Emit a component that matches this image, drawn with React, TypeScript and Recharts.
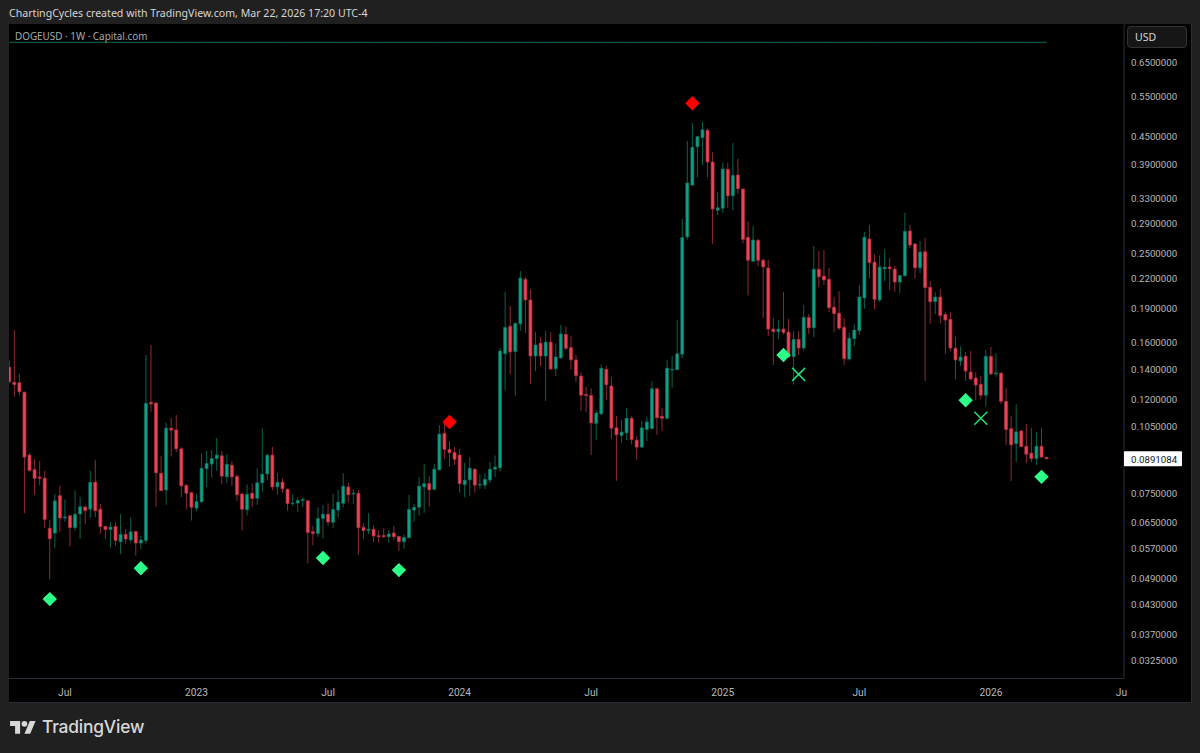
import { Bar, Cell, ComposedChart, Line, Scatter, XAxis, YAxis } from 'recharts';

// DOGEUSD weekly, oldest first
const highs = [
  0.1458, 0.17, 0.1364, 0.1247, 0.0919, 0.0889, 0.088, 0.0838, 0.0656, 0.0747,
  0.078, 0.0727, 0.0671, 0.076, 0.0737, 0.0704, 0.0839, 0.0886, 0.0711, 0.0638,
  0.0648, 0.0648, 0.0675, 0.0627, 0.0665, 0.0621, 0.0605, 0.15, 0.1577, 0.1183,
  0.0904, 0.1069, 0.1094, 0.111, 0.0945, 0.0784, 0.0755, 0.0747, 0.0916, 0.0928,
  0.0931, 0.0989, 0.0928, 0.0912, 0.088, 0.0825, 0.0752, 0.0783, 0.0786, 0.085,
  0.1039, 0.0912, 0.0945, 0.083, 0.0808, 0.0768, 0.0746, 0.0734, 0.0734, 0.0725,
  0.0637, 0.0699, 0.0707, 0.0713, 0.0747, 0.0762, 0.0829, 0.079, 0.0765, 0.0762,
  0.0645, 0.0678, 0.0638, 0.0622, 0.0629, 0.0624, 0.0637, 0.0605, 0.061, 0.0744,
  0.0711, 0.0812, 0.0868, 0.0817, 0.0868, 0.1056, 0.1065, 0.0973, 0.0946, 0.0936,
  0.0874, 0.0898, 0.0848, 0.0826, 0.0829, 0.0877, 0.0906, 0.1551, 0.206, 0.1917,
  0.1758, 0.2285, 0.2221, 0.2085, 0.1683, 0.1639, 0.1694, 0.1683, 0.1591, 0.1743,
  0.1729, 0.165, 0.15, 0.1375, 0.1279, 0.1269, 0.1138, 0.1432, 0.142, 0.1341,
  0.1105, 0.1083, 0.1148, 0.1105, 0.0999, 0.1078, 0.1098, 0.1315, 0.1272, 0.1148,
  0.1463, 0.1492, 0.1787, 0.297, 0.4385, 0.4808, 0.4494, 0.4832, 0.4674, 0.4144,
  0.3397, 0.3934, 0.3934, 0.4337, 0.4014, 0.3452, 0.2933, 0.2865, 0.2683, 0.2435,
  0.2411, 0.1805, 0.1787, 0.2057, 0.1796, 0.1689, 0.1689, 0.1927, 0.1842, 0.259,
  0.2527, 0.2539, 0.2317, 0.2003, 0.2065, 0.1805, 0.1678, 0.1749, 0.213, 0.2779,
  0.2874, 0.2485, 0.247, 0.2548, 0.2439, 0.2347, 0.224, 0.3061, 0.2881, 0.2627,
  0.2653, 0.2697, 0.2173, 0.2055, 0.2089, 0.1863, 0.1863, 0.1644, 0.1565, 0.1523,
  0.1528, 0.1375, 0.135, 0.1538, 0.1561, 0.1512, 0.1375, 0.1271, 0.1103, 0.1171,
  0.103, 0.1062, 0.1041, 0.1019, 0.1041, 0.0898,
];
const lows = [
  0.1301, 0.1217, 0.1226, 0.0678, 0.0836, 0.0744, 0.0781, 0.063, 0.0487, 0.0569,
  0.0618, 0.0649, 0.0574, 0.0622, 0.0597, 0.0641, 0.0662, 0.0666, 0.0611, 0.0597,
  0.0571, 0.0577, 0.0552, 0.0582, 0.0585, 0.0549, 0.0567, 0.0582, 0.1129, 0.0701,
  0.0757, 0.0708, 0.0901, 0.0922, 0.0735, 0.0692, 0.0654, 0.0685, 0.0717, 0.0773,
  0.0811, 0.0839, 0.0784, 0.079, 0.0778, 0.0721, 0.0622, 0.0671, 0.0701, 0.0708,
  0.0755, 0.08, 0.0761, 0.0744, 0.0753, 0.0687, 0.0704, 0.0683, 0.0701, 0.0528,
  0.0578, 0.0602, 0.0598, 0.0637, 0.0629, 0.0664, 0.0699, 0.0717, 0.0711, 0.0551,
  0.0596, 0.0611, 0.0587, 0.0585, 0.0599, 0.0585, 0.0593, 0.0562, 0.0568, 0.0599,
  0.065, 0.0671, 0.068, 0.0701, 0.076, 0.084, 0.089, 0.0857, 0.0864, 0.0753,
  0.0735, 0.074, 0.0752, 0.0767, 0.0766, 0.0789, 0.0813, 0.0836, 0.1258, 0.1361,
  0.1222, 0.1694, 0.1675, 0.1297, 0.1384, 0.142, 0.1191, 0.1391, 0.135, 0.1472,
  0.1538, 0.1391, 0.1312, 0.1133, 0.1127, 0.0908, 0.0979, 0.1113, 0.1197, 0.0984,
  0.0798, 0.0966, 0.0979, 0.0958, 0.0886, 0.0943, 0.0975, 0.1034, 0.1005, 0.1025,
  0.1087, 0.1272, 0.1391, 0.1475, 0.2674, 0.35, 0.3655, 0.3888, 0.3655, 0.2617,
  0.3026, 0.3057, 0.3139, 0.3103, 0.3365, 0.2627, 0.2022, 0.2395, 0.234, 0.1805,
  0.165, 0.1427, 0.1622, 0.1659, 0.148, 0.1293, 0.15, 0.1533, 0.1667, 0.1639,
  0.2106, 0.213, 0.1859, 0.1681, 0.17, 0.1427, 0.1458, 0.1565, 0.1659, 0.189,
  0.2206, 0.1884, 0.1956, 0.217, 0.2078, 0.2057, 0.2045, 0.2228, 0.2561, 0.2198,
  0.2263, 0.1316, 0.1754, 0.1842, 0.1758, 0.1509, 0.153, 0.1328, 0.142, 0.1316,
  0.1319, 0.1197, 0.1201, 0.1157, 0.1357, 0.1345, 0.1173, 0.0954, 0.0797, 0.0877,
  0.0945, 0.0873, 0.0877, 0.0864, 0.0897, 0.0891,
];
const opens = [
  0.1411, 0.1308, 0.1305, 0.1245, 0.0908, 0.0844, 0.0813, 0.0809, 0.0629, 0.0614,
  0.0741, 0.0662, 0.067, 0.0631, 0.0676, 0.07, 0.0692, 0.0793, 0.0692, 0.0635,
  0.0625, 0.0635, 0.0588, 0.061, 0.0593, 0.0619, 0.0584, 0.0592, 0.1183, 0.1179,
  0.0829, 0.0762, 0.1039, 0.103, 0.0937, 0.078, 0.0752, 0.0696, 0.0718, 0.0848,
  0.0868, 0.0892, 0.0905, 0.0814, 0.0863, 0.0816, 0.0747, 0.069, 0.075, 0.0731,
  0.079, 0.0826, 0.0908, 0.0774, 0.0793, 0.0765, 0.0712, 0.0714, 0.0723, 0.0722,
  0.0618, 0.0613, 0.0661, 0.0675, 0.0648, 0.0689, 0.0713, 0.0774, 0.0747, 0.075,
  0.0632, 0.0622, 0.0626, 0.0606, 0.0607, 0.0603, 0.0614, 0.0604, 0.0588, 0.06,
  0.0689, 0.0699, 0.0774, 0.0787, 0.0765, 0.0843, 0.1013, 0.0934, 0.092, 0.0908,
  0.0783, 0.0802, 0.0846, 0.0781, 0.0781, 0.0801, 0.0846, 0.0852, 0.1509, 0.1732,
  0.1526, 0.1754, 0.2192, 0.1976, 0.1492, 0.1591, 0.1492, 0.16, 0.14, 0.1478,
  0.1662, 0.1556, 0.1463, 0.135, 0.123, 0.1225, 0.1065, 0.1116, 0.1396, 0.1284,
  0.1041, 0.1002, 0.1015, 0.1092, 0.0979, 0.0945, 0.1032, 0.1037, 0.1266, 0.1103,
  0.1092, 0.1391, 0.1393, 0.1506, 0.2711, 0.3515, 0.426, 0.4458, 0.4627, 0.3947,
  0.3098, 0.3129, 0.3805, 0.3333, 0.3697, 0.3447, 0.2706, 0.2399, 0.2665, 0.2411,
  0.232, 0.1708, 0.1686, 0.1708, 0.1683, 0.1487, 0.1622, 0.1553, 0.1811, 0.1719,
  0.2305, 0.2228, 0.2192, 0.1906, 0.185, 0.1723, 0.147, 0.1628, 0.1694, 0.1996,
  0.2683, 0.2389, 0.1976, 0.2308, 0.2332, 0.2308, 0.2162, 0.2231, 0.2793, 0.2617,
  0.2323, 0.2518, 0.2106, 0.1959, 0.2006, 0.1838, 0.1793, 0.1551, 0.1456, 0.149,
  0.1377, 0.1336, 0.1295, 0.1226, 0.149, 0.1364, 0.1369, 0.1189, 0.1037, 0.0961,
  0.1025, 0.0949, 0.0917, 0.0892, 0.0949, 0.0898,
];
const closes = [
  0.1312, 0.1293, 0.1247, 0.0899, 0.084, 0.0808, 0.0808, 0.0657, 0.0597, 0.0722,
  0.0662, 0.0666, 0.0631, 0.0675, 0.0701, 0.0687, 0.0792, 0.0687, 0.0634, 0.0625,
  0.0633, 0.0592, 0.061, 0.0596, 0.0618, 0.0584, 0.0593, 0.1177, 0.1173, 0.0831,
  0.076, 0.1039, 0.1029, 0.0937, 0.0778, 0.075, 0.0699, 0.0719, 0.085, 0.0871,
  0.0893, 0.0908, 0.0817, 0.0867, 0.0814, 0.0744, 0.0692, 0.0746, 0.073, 0.079,
  0.0825, 0.0908, 0.0774, 0.0792, 0.0767, 0.0712, 0.0714, 0.0723, 0.0727, 0.0616,
  0.0613, 0.0661, 0.0675, 0.0649, 0.0691, 0.0717, 0.0777, 0.0744, 0.075, 0.0631,
  0.0622, 0.0626, 0.0605, 0.0603, 0.0603, 0.0611, 0.0603, 0.0588, 0.0601, 0.0691,
  0.0699, 0.0777, 0.0787, 0.0763, 0.0846, 0.1009, 0.0934, 0.0919, 0.0889, 0.0787,
  0.0801, 0.085, 0.0781, 0.0784, 0.0804, 0.0846, 0.0855, 0.153, 0.1723, 0.1523,
  0.1758, 0.2206, 0.1976, 0.1492, 0.1577, 0.1492, 0.16, 0.1398, 0.1485, 0.1667,
  0.1551, 0.1463, 0.1352, 0.1226, 0.1223, 0.1067, 0.1121, 0.1404, 0.1292, 0.1039,
  0.1005, 0.1019, 0.1092, 0.0981, 0.0945, 0.1041, 0.1072, 0.1266, 0.1095, 0.1092,
  0.1404, 0.1396, 0.1509, 0.2702, 0.3553, 0.4248, 0.448, 0.464, 0.3947, 0.3118,
  0.3139, 0.3811, 0.3333, 0.3691, 0.3452, 0.2678, 0.2411, 0.267, 0.2411, 0.2332,
  0.1708, 0.1686, 0.1708, 0.1678, 0.1483, 0.1622, 0.1553, 0.1811, 0.1719, 0.2305,
  0.2221, 0.2184, 0.1901, 0.1846, 0.1716, 0.1472, 0.1631, 0.17, 0.2006, 0.2706,
  0.2384, 0.1982, 0.2332, 0.2329, 0.2312, 0.2162, 0.2235, 0.2789, 0.2603, 0.2323,
  0.2514, 0.2102, 0.1959, 0.2006, 0.1827, 0.1787, 0.1553, 0.1463, 0.1485, 0.1384,
  0.133, 0.129, 0.1226, 0.149, 0.1364, 0.1371, 0.1189, 0.1032, 0.0956, 0.102,
  0.0947, 0.0912, 0.0892, 0.0949, 0.0899, 0.0891084,
];

const priceTicks = [
  0.65, 0.55, 0.45, 0.39, 0.33, 0.29, 0.25, 0.22, 0.19, 0.16, 0.14, 0.12, 0.105,
  0.0891084, 0.075, 0.065, 0.057, 0.049, 0.043, 0.037, 0.0325,
];
const lastPrice = 0.0891084;

const timeTicks = [11, 37, 63, 89, 115, 141, 168, 194, 219.8];
const timeLabels = ['Jul', '2023', 'Jul', '2024', 'Jul', '2025', 'Jul', '2026', 'Ju'];

const buySignals = [
  { week: 8, price: 0.0441 },
  { week: 26, price: 0.0515 },
  { week: 62, price: 0.0542 },
  { week: 77, price: 0.051 },
  { week: 153, price: 0.15 },
  { week: 189, price: 0.1195 },
  { week: 204, price: 0.0814 },
];
const sellSignals = [
  { week: 87, price: 0.1072 },
  { week: 135, price: 0.5297 },
];
const crossSignals = [
  { week: 156, price: 0.1361 },
  { week: 192, price: 0.1092 },
];
const topLevel = 0.7193;

const UP = '#10a085';
const UP_EDGE = '#0b6f5e';
const DOWN = '#ec4558';
const DOWN_EDGE = '#b02e3c';
const UP_WICK = '#0a6152';
const DOWN_WICK = '#8c2a35';
const AXIS_TEXT = '#b8b8b8';
const FRAME = '#2a2e39';
const FONT = '"Noto Sans", sans-serif';
const TICK_FONT = 'Roboto, sans-serif';

const candles = highs.map((high, i) => ({
  week: i,
  wick: [lows[i], high],
  body: [Math.min(opens[i], closes[i]), Math.max(opens[i], closes[i])],
  up: closes[i] >= opens[i],
  top: topLevel,
}));

const Diamond = ({ cx, cy, fill }: any) => (
  <polygon points={`${cx},${cy - 7.2} ${cx + 7.2},${cy} ${cx},${cy + 7.2} ${cx - 7.2},${cy}`} fill={fill} />
);

const Cross = ({ cx, cy }: any) => (
  <path
    d={`M${cx - 6.5},${cy - 6.5}L${cx + 6.5},${cy + 6.5}M${cx - 6.5},${cy + 6.5}L${cx + 6.5},${cy - 6.5}`}
    stroke="#1fe078"
    strokeWidth={1.5}
    fill="none"
  />
);

const PriceTick = ({ x, y, payload }: any) => {
  const isLast = payload.value === lastPrice;
  return (
    <g>
      {isLast && <rect x={x - 7} y={y - 7.5} width={58} height={15} rx={1} fill="#ffffff" />}
      <text
        x={x}
        y={y + 3.8}
        fontSize={9.7}
        fontFamily={TICK_FONT}
        fill={isLast ? '#131722' : AXIS_TEXT}
      >
        {payload.value.toFixed(7)}
      </text>
    </g>
  );
};

export default function App() {
  return (
    <div style={{ position: 'absolute', left: 0, top: 0, width: 1200, height: 753, background: '#202020', overflow: 'hidden' }}>
      <div style={{ position: 'absolute', left: 9, top: 24, width: 1182, height: 677.5, background: '#000000', borderRight: `1px solid ${FRAME}`, borderBottom: `1px solid ${FRAME}` }} />
      <div style={{ position: 'absolute', left: 9, top: 6, fontFamily: FONT, fontSize: 10.6, color: '#d6d6d6', whiteSpace: 'nowrap' }}>
        ChartingCycles created with TradingView.com, Mar 22, 2026 17:20 UTC-4
      </div>

      <div style={{ position: 'absolute', left: 0, top: 0 }}>
        <ComposedChart
          width={1200}
          height={753}
          data={candles}
          margin={{ top: 24, right: 8, bottom: 51.5, left: 9 }}
        >
          <XAxis
            xAxisId="wick"
            dataKey="week"
            type="number"
            domain={[-0.06, 220.3]}
            allowDataOverflow
            hide
          />
          <XAxis
            xAxisId="body"
            dataKey="week"
            type="number"
            domain={[-0.06, 220.3]}
            allowDataOverflow
            ticks={timeTicks}
            interval={0}
            height={23}
            tickLine={false}
            tickMargin={4}
            axisLine={{ stroke: FRAME }}
            tick={{ fontSize: 10.2, fontFamily: TICK_FONT, fill: AXIS_TEXT }}
            tickFormatter={(v: number) => timeLabels[timeTicks.indexOf(v)]}
          />
          <YAxis
            orientation="right"
            type="number"
            scale="log"
            domain={[0.02962, 0.7884]}
            allowDataOverflow
            ticks={priceTicks}
            interval={0}
            width={68}
            tickLine={false}
            tickMargin={1}
            axisLine={{ stroke: FRAME }}
            tick={<PriceTick />}
          />

          <Line
            xAxisId="body"
            dataKey="top"
            stroke="#0b6e5c"
            strokeWidth={1}
            dot={false}
            isAnimationActive={false}
          />
          <Bar xAxisId="wick" dataKey="wick" barSize={1} isAnimationActive={false}>
            {candles.map((c) => (
              <Cell key={c.week} fill={c.up ? UP_WICK : DOWN_WICK} />
            ))}
          </Bar>
          <Bar xAxisId="body" dataKey="body" barSize={3} isAnimationActive={false}>
            {candles.map((c) => (
              <Cell
                key={c.week}
                fill={c.up ? UP : DOWN}
                stroke={c.up ? UP_EDGE : DOWN_EDGE}
                strokeWidth={0.7}
              />
            ))}
          </Bar>
          <Scatter
            xAxisId="body"
            data={buySignals}
            dataKey="price"
            shape={(p: any) => <Diamond {...p} fill="#2bff88" />}
            isAnimationActive={false}
          />
          <Scatter
            xAxisId="body"
            data={sellSignals}
            dataKey="price"
            shape={(p: any) => <Diamond {...p} fill="#ff0000" />}
            isAnimationActive={false}
          />
          <Scatter
            xAxisId="body"
            data={crossSignals}
            dataKey="price"
            shape={(p: any) => <Cross {...p} />}
            isAnimationActive={false}
          />
        </ComposedChart>
      </div>

      <div style={{ position: 'absolute', left: 15, top: 29, fontFamily: FONT, fontSize: 9.9, color: '#a8a8a8', whiteSpace: 'nowrap' }}>
        DOGEUSD · 1W · Capital.com
      </div>
      <div style={{ position: 'absolute', left: 1127, top: 26, width: 60, height: 22, boxSizing: 'border-box', border: '1px solid #333333', borderRadius: 4, background: '#161616', fontFamily: FONT, fontSize: 10.5, lineHeight: '20px', color: '#d6d6d6', paddingLeft: 7 }}>
        USD
      </div>
      <svg style={{ position: 'absolute', left: 10, top: 718 }} width={26} height={18} viewBox="0 0 36 25">
        <path d="M14 22H7V11H0V4h14v18zM28 22h-8l7.5-18h8L28 22z" fill="#d8d8d8" />
        <circle cx={20} cy={8} r={4} fill="#d8d8d8" />
      </svg>
      <div style={{ position: 'absolute', left: 42, top: 716, fontFamily: 'Inter, sans-serif', fontWeight: 500, fontSize: 17.4, letterSpacing: -0.2, color: '#d8d8d8', whiteSpace: 'nowrap' }}>
        TradingView
      </div>
    </div>
  );
}
